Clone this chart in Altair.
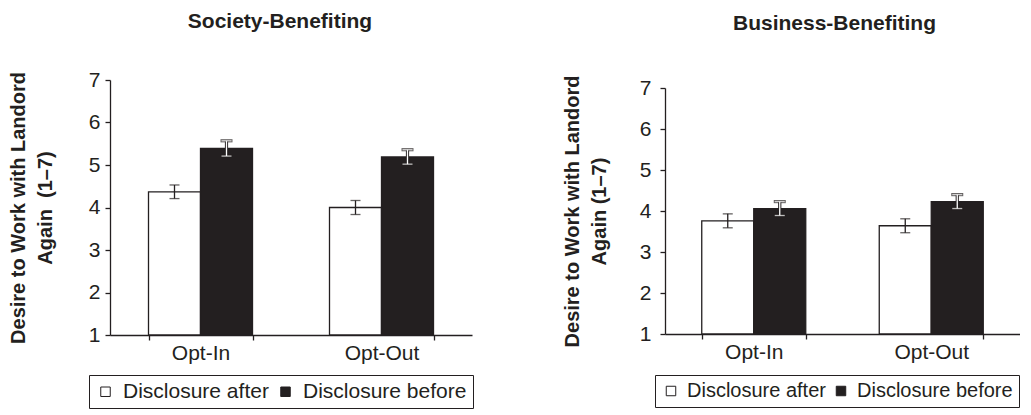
import altair as alt
import pandas as pd

FONT = "Liberation Sans"
INK = "#231f20"

conditions = ["Opt-In", "Opt-Out"]
series_names = ["Disclosure after", "Disclosure before"]

society_after = [4.37, 4.00]
society_before = [5.39, 5.19]
society_after_err = [0.16, 0.165]
society_before_err = [0.18, 0.17]

business_after = [3.76, 3.64]
business_before = [4.06, 4.23]
business_after_err = [0.17, 0.17]
business_before_err = [0.17, 0.17]

y_ticks = [1, 2, 3, 4, 5, 6, 7]


def make_df(after, before, after_err, before_err):
    rows = []
    for i, c in enumerate(conditions):
        rows.append(dict(cond=c, series=series_names[0], value=after[i],
                         lo=after[i] - after_err[i], hi=after[i] + after_err[i]))
        rows.append(dict(cond=c, series=series_names[1], value=before[i],
                         lo=before[i] - before_err[i], hi=before[i] + before_err[i]))
    return pd.DataFrame(rows)


def panel(title, df, ytitle, width, height, yrange, title_offset, title_dx, legend_x, legend_y,
          label_pad, title_pad, leg_font, leg_offset, leg_colpad):
    base = alt.Chart(df)
    pair = 104.0
    pi = 1 - pair / (width / 2.0)
    x = alt.X("cond:N", scale=alt.Scale(domain=conditions, paddingInner=pi, paddingOuter=pi / 2),
              axis=alt.Axis(title=None, labelAngle=0, tickBand="extent", labelPadding=2,
                            labelFontSize=21))
    xo = alt.XOffset("series:N", scale=alt.Scale(domain=series_names, paddingInner=0, paddingOuter=0))
    yscale = alt.Scale(domain=[1, 7], nice=False, zero=False, range=yrange)
    yaxis = alt.Axis(title=ytitle, values=y_ticks, labelPadding=label_pad, titlePadding=title_pad,
                     titleFontSize=20, titleFontWeight="bold", titleLineHeight=27,
                     titleColor=INK, titleFont=FONT)
    white_on_black = alt.condition(alt.datum.series == series_names[1], alt.value("white"), alt.value(INK))

    bars = base.mark_bar(stroke=INK, strokeWidth=1.3).encode(
        x=x, xOffset=xo,
        y=alt.Y("value:Q", scale=yscale, axis=yaxis),
        y2=alt.datum(1),
        color=alt.Color("series:N",
                        scale=alt.Scale(domain=series_names, range=["white", INK]),
                        legend=alt.Legend(title=None, orient="none", legendX=legend_x, legendY=legend_y,
                                          direction="horizontal", symbolType="square", symbolSize=90,
                                          symbolStrokeColor=INK, symbolStrokeWidth=1,
                                          labelFontSize=leg_font, labelFont=FONT, labelColor=INK, labelLimit=0,
                                          labelOffset=leg_offset, columnPadding=leg_colpad, padding=6,
                                          strokeColor=INK, fillColor="white")),
    )

    before_only = base.transform_filter(alt.datum.series == series_names[1])
    halo_rule = before_only.mark_rule(color=INK, strokeWidth=3.2).encode(
        x=x, xOffset=xo, y=alt.Y("lo:Q", scale=yscale), y2="hi:Q")
    halo_lo = before_only.mark_tick(color=INK, thickness=3.2, size=12).encode(
        x=x, xOffset=xo, y=alt.Y("lo:Q", scale=yscale))
    halo_hi = before_only.mark_tick(color=INK, thickness=3.2, size=12).encode(
        x=x, xOffset=xo, y=alt.Y("hi:Q", scale=yscale))

    rule = base.mark_rule(strokeWidth=1.3).encode(
        x=x, xOffset=xo, y=alt.Y("lo:Q", scale=yscale), y2="hi:Q", color=white_on_black)
    tick_lo = base.mark_tick(thickness=1.3, size=10).encode(
        x=x, xOffset=xo, y=alt.Y("lo:Q", scale=yscale), color=white_on_black)
    tick_hi = base.mark_tick(thickness=1.3, size=10).encode(
        x=x, xOffset=xo, y=alt.Y("hi:Q", scale=yscale), color=white_on_black)

    return alt.layer(bars, halo_rule, halo_lo, halo_hi, rule, tick_lo, tick_hi).properties(
        width=width, height=height,
        title=alt.TitleParams(title, offset=title_offset, dx=title_dx, fontSize=21, font=FONT,
                              fontWeight="bold", color=INK, anchor="middle"),
    )


left = panel("Society-Benefiting", make_df(society_after, society_before, society_after_err, society_before_err),
             ["Desire to Work with Landord", "Again \u00a0(1\u20137)"], 362, 255, [255, 0], 37.5, -11, -21, 295,
             5, 33, 21, 7, 6)
right = panel("Business-Benefiting", make_df(business_after, business_before, business_after_err, business_before_err),
              ["Desire to Work with Landord", "Again (1\u20137)"], 355, 254, [254, 8], 41.5, -8, -10, 295,
              9, 30, 20, 6, 5)

chart = alt.hconcat(left, right, spacing=88).resolve_scale(color="independent").resolve_legend(
    color="independent").properties(
    padding={"left": 0, "top": 2, "right": 0, "bottom": 0}
).configure_view(stroke=None).configure_axis(
    domainColor=INK, domainWidth=1.3, tickColor=INK, tickWidth=1.3, tickSize=5,
    labelFont=FONT, labelFontSize=21, labelColor=INK, grid=False,
).configure_legend(labelFont=FONT)

chart.save("out.html", embed_options={"renderer": "svg", "actions": False})
